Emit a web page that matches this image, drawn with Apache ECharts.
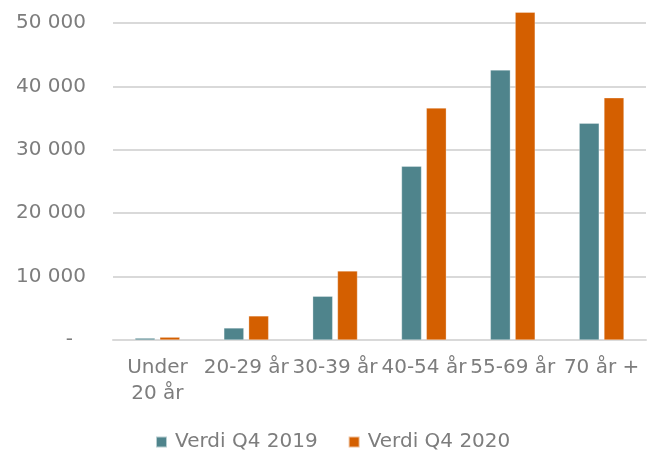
<!DOCTYPE html>
<html>
<head>
<meta charset="utf-8">
<script src="https://cdn.jsdelivr.net/npm/echarts@6/dist/echarts.min.js"></script>
<style>
  html, body { margin: 0; padding: 0; background: #fff; }
  #chart { width: 653px; height: 450px; }
</style>
</head>
<body>
<div id="chart"></div>
<script>
const categories = ['Under\n20 år', '20-29 år', '30-39 år', '40-54 år', '55-69 år', '70 år +']
const seriesNames = ['Verdi Q4 2019', 'Verdi Q4 2020']
const values2019 = [300, 1900, 6900, 27400, 42600, 34200]
const values2020 = [450, 3800, 10900, 36600, 51700, 38200]
const colors = ['#4f848c', '#d45f00']

const fontFamily = '"DejaVu Sans", sans-serif'
const textColor = '#7d7d7d'

const fmt = v => {
  if (v === 0) return '{dash|-}'
  return String(v).replace(/\B(?=(\d{3})+(?!\d))/g, ' ')
}

const myChart = echarts.init(document.getElementById('chart'))
myChart.setOption({
  animation: false,
  color: colors,
  grid: { left: 113, right: 7, top: 23, bottom: 110, containLabel: false },
  legend: {
    data: seriesNames,
    top: 427,
    left: 150,
    itemWidth: 11,
    itemHeight: 11,
    itemGap: 30,
    icon: 'rect',
    textStyle: { color: textColor, fontSize: 20, fontFamily: fontFamily, padding: [0, 0, 0, 3] }
  },
  xAxis: {
    type: 'category',
    data: categories,
    axisLine: { show: true, lineStyle: { color: '#d9d9d9', width: 2 } },
    axisTick: { show: false },
    axisLabel: {
      interval: 0,
      margin: 15,
      color: textColor,
      fontSize: 20,
      lineHeight: 26,
      fontFamily: fontFamily
    }
  },
  yAxis: {
    type: 'value',
    min: 0,
    max: 50000,
    interval: 10000,
    axisLine: { show: false },
    axisTick: { show: false },
    splitLine: { lineStyle: { color: '#d9d9d9', width: 2 } },
    axisLabel: {
      margin: 27,
      color: textColor,
      fontSize: 20,
      fontFamily: fontFamily,
      formatter: fmt,
      rich: {
        dash: { color: textColor, fontSize: 20, fontFamily: fontFamily, padding: [0, 13, 0, 0] }
      }
    }
  },
  series: [
    {
      name: seriesNames[0],
      type: 'bar',
      data: values2019,
      barWidth: 20,
      barGap: '24%',
      clip: false,
      itemStyle: { borderColor: 'rgba(255,255,255,0.6)', borderWidth: 0.5 }
    },
    {
      name: seriesNames[1],
      type: 'bar',
      data: values2020,
      barWidth: 20,
      clip: false,
      itemStyle: { borderColor: 'rgba(255,255,255,0.6)', borderWidth: 0.5 }
    }
  ]
})
</script>
</body>
</html>
